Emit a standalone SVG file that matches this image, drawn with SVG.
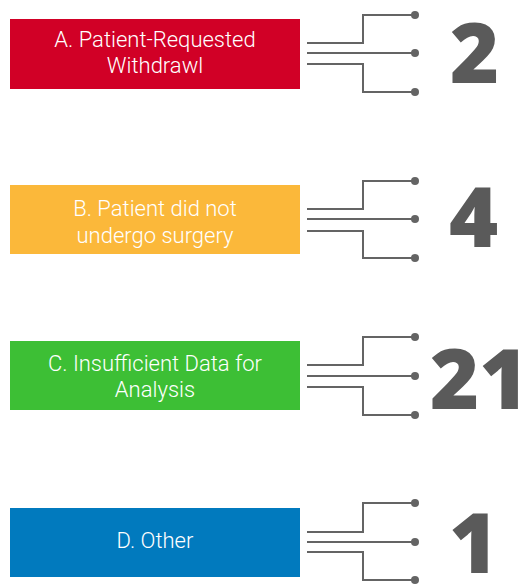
<svg xmlns="http://www.w3.org/2000/svg" width="523" height="584" viewBox="0 0 523 584">
<style>
.lbl{font-family:Roboto,"Liberation Sans",sans-serif;font-weight:300;font-size:22px;fill:#ffffff;text-anchor:middle}
.num{font-family:"Open Sans","Liberation Sans",sans-serif;font-weight:800;font-size:84px;fill:#5a5a5a}
.wire{fill:none;stroke:#646464;stroke-width:2}
.dot{fill:#646464}
</style>
<rect width="523" height="584" fill="#ffffff"/>
<g id="nodeA">
<rect x="10" y="19" width="290" height="70" fill="#d10026"/>
<text class="lbl" x="155" y="47">A. Patient-Requested</text>
<text class="lbl" x="155" y="73">Withdrawl</text>
<text class="num" x="450" y="83">2</text>
</g>
<g id="nodeB">
<rect x="10" y="185" width="290" height="69" fill="#fbb83a"/>
<text class="lbl" x="155" y="216">B. Patient did not</text>
<text class="lbl" x="155" y="243">undergo surgery</text>
<text class="num" x="449" y="247">4</text>
</g>
<g id="nodeC">
<rect x="10" y="341" width="290" height="69" fill="#3dbf35"/>
<text class="lbl" x="155" y="371">C. Insufficient Data for</text>
<text class="lbl" x="155" y="397">Analysis</text>
<text class="num" x="430" y="409">21</text>
</g>
<g id="nodeD">
<rect x="10" y="508" width="290" height="69" fill="#017abe"/>
<text class="lbl" x="155" y="548">D. Other</text>
<text class="num" x="449" y="573">1</text>
</g>
<g id="connectors">
<path class="wire" d="M307 43H363V15H415M307 53H415M307 64H363V92H415"/>
<circle class="dot" cx="415" cy="15" r="4"/><circle class="dot" cx="415" cy="53" r="4"/><circle class="dot" cx="415" cy="92" r="4"/>
<path class="wire" d="M307 209H363V181H415M307 219H415M307 231H363V258H415"/>
<circle class="dot" cx="415" cy="181" r="4"/><circle class="dot" cx="415" cy="219" r="4"/><circle class="dot" cx="415" cy="258" r="4"/>
<path class="wire" d="M307 365H363V337H415M307 376H415M307 387H363V415H415"/>
<circle class="dot" cx="415" cy="337" r="4"/><circle class="dot" cx="415" cy="376" r="4"/><circle class="dot" cx="415" cy="415" r="4"/>
<path class="wire" d="M307 532H363V503H415M307 542H415M307 552H363V580H415"/>
<circle class="dot" cx="415" cy="503" r="4"/><circle class="dot" cx="415" cy="542" r="4"/><circle class="dot" cx="415" cy="580" r="4"/>
</g>
</svg>
